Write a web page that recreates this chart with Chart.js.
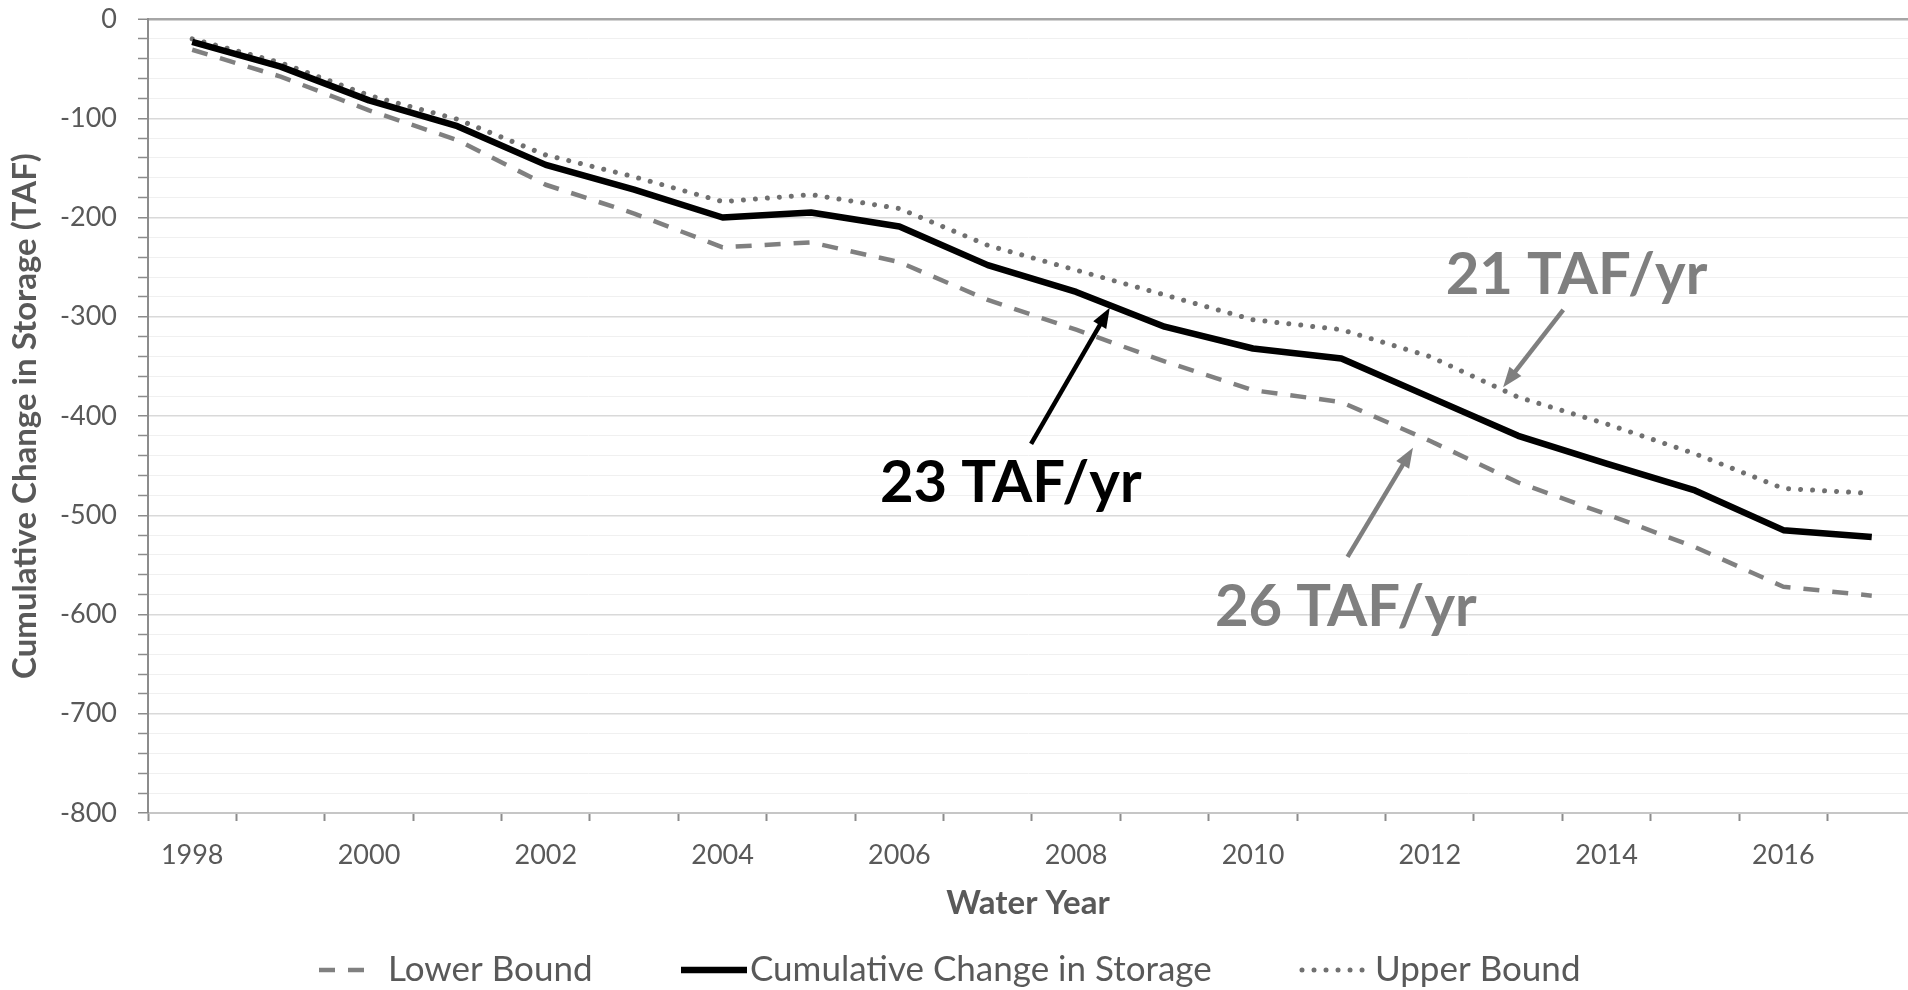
<!DOCTYPE html>
<html><head><meta charset="utf-8">
<script src="https://cdn.jsdelivr.net/npm/chart.js@4.4.1/dist/chart.umd.min.js"></script>
<style>html,body{margin:0;padding:0;background:#fff;overflow:hidden}#wrap{width:1908px;height:990px}</style>
</head><body><div id="wrap"><canvas id="c" width="1908" height="990"></canvas></div>
<script>
const years = [1998,1999,2000,2001,2002,2003,2004,2005,2006,2007,2008,2009,2010,2011,2012,2013,2014,2015,2016,2017];
const lowerBound = [-31,-58,-92,-122,-167,-196,-230,-225,-245,-283,-313,-345,-374,-386,-425,-467,-499,-532,-572,-581];
const cumulative = [-23,-48,-82,-108,-147,-172,-200,-195,-209,-248,-275,-310,-332,-342,-381,-420,-448,-475,-515,-522];
const upperBound = [-20,-44,-77,-101,-137,-159,-184,-177,-191,-228,-253,-278,-303,-313,-340,-381,-408,-438,-473,-478];
const xTickYears = [1998,2000,2002,2004,2006,2008,2010,2012,2014,2016];
const seriesLabels = ['Lower Bound','Cumulative Change in Storage','Upper Bound'];
const annotations = [
  {text:'23 TAF/yr', color:'#000000', at:[2007.26,-468], from:[2007.49,-428], to:[2008.38,-291]},
  {text:'21 TAF/yr', color:'#7f7f7f', at:[2013.66,-258], from:[2013.51,-293], to:[2012.83,-371]},
  {text:'26 TAF/yr', color:'#7f7f7f', at:[2011.05,-593], from:[2011.07,-542], to:[2011.81,-432]}
];

const FONT = 'Lato, "Open Sans", "DejaVu Sans", sans-serif';
const TEXT = '#595959';

function pts(arr){ return years.map((y,i)=>({x:y, y:arr[i]})); }

function arrow(ctx,x1,y1,x2,y2,color,w,hl,hw){
  const a = Math.atan2(y2-y1,x2-x1);
  const bx = x2-hl*Math.cos(a), by = y2-hl*Math.sin(a);
  ctx.save();
  ctx.strokeStyle=color; ctx.lineWidth=w; ctx.lineCap='butt'; ctx.setLineDash([]);
  ctx.beginPath(); ctx.moveTo(x1,y1); ctx.lineTo(bx+Math.cos(a),by+Math.sin(a)); ctx.stroke();
  ctx.fillStyle=color; ctx.beginPath(); ctx.moveTo(x2,y2);
  ctx.lineTo(bx+hw/2*Math.sin(a), by-hw/2*Math.cos(a));
  ctx.lineTo(bx-hw/2*Math.sin(a), by+hw/2*Math.cos(a));
  ctx.closePath(); ctx.fill();
  ctx.restore();
}

const extras = {
  id:'extras',
  afterDraw(chart){
    const ctx = chart.ctx, xs = chart.scales.x, ys = chart.scales.y;
    annotations.forEach(an=>{
      arrow(ctx, xs.getPixelForValue(an.from[0]), ys.getPixelForValue(an.from[1]),
                 xs.getPixelForValue(an.to[0]), ys.getPixelForValue(an.to[1]), an.color, 4.5, 20, 15);
      ctx.save();
      ctx.font = 'bold 58px ' + FONT;
      ctx.fillStyle = an.color; ctx.textAlign='center'; ctx.textBaseline='middle';
      ctx.fillText(an.text, xs.getPixelForValue(an.at[0]), ys.getPixelForValue(an.at[1]));
      ctx.restore();
    });
    const ly = 970;
    const items = [
      {ds:0, x0:319, x1:365, tx:388},
      {ds:1, x0:681, x1:747, tx:750},
      {ds:2, x0:1302, x1:1371, tx:1375}
    ];
    ctx.save();
    items.forEach(it=>{
      const d = chart.data.datasets[it.ds];
      ctx.strokeStyle = d.borderColor;
      ctx.lineWidth = d.borderWidth;
      ctx.setLineDash(d.borderDash || []);
      ctx.lineCap = d.borderCapStyle || 'butt';
      ctx.beginPath(); ctx.moveTo(it.x0, ly); ctx.lineTo(it.x1, ly); ctx.stroke();
      ctx.setLineDash([]);
      ctx.font = '35px ' + FONT;
      ctx.fillStyle = TEXT; ctx.textAlign='left'; ctx.textBaseline='middle';
      ctx.fillText(d.label, it.tx, ly);
    });
    ctx.restore();
  }
};

function build(){
  Chart.defaults.font.family = FONT;
  Chart.defaults.color = TEXT;
  new Chart(document.getElementById('c'), {
    type:'line',
    data:{datasets:[
      {label:seriesLabels[0], data:pts(lowerBound), borderColor:'#808080', borderWidth:4.5, borderDash:[16,13], order:2},
      {label:seriesLabels[1], data:pts(cumulative), borderColor:'#000000', borderWidth:6.5, order:0},
      {label:seriesLabels[2], data:pts(upperBound), borderColor:'#707070', borderWidth:5, borderDash:[0.01,12], borderCapStyle:'round', order:1}
    ]},
    options:{
      responsive:false, animation:false, devicePixelRatio:1,
      layout:{padding:{top:19,right:0,bottom:59,left:0}},
      elements:{point:{radius:0,hoverRadius:0}, line:{tension:0, borderJoinStyle:'round'}},
      plugins:{legend:{display:false}, tooltip:{enabled:false}},
      events:[],
      scales:{
        x:{
          type:'linear', min:1997.5, max:2017.41,
          afterBuildTicks(s){ const t=[]; for(let v=1997.5; v<=2017.41; v+=0.5) t.push({value:v}); s.ticks=t; },
          afterFit(s){ s.height = 118; s.paddingLeft = 0; s.paddingRight = 0; },
          ticks:{autoSkip:false, maxRotation:0, minRotation:0, padding:18, color:TEXT, font:{size:27},
            callback:(v)=> xTickYears.includes(v) ? String(v) : ''},
          grid:{drawOnChartArea:false, drawTicks:true, tickLength:8, tickWidth:2,
            tickColor:(c)=> (c.tick && c.tick.value % 1 !== 0) ? '#8c8c8c' : 'rgba(0,0,0,0)'},
          border:{color:'#c6c6c6', width:2},
          title:{display:true, text:'Water Year', color:TEXT, font:{size:33, weight:'bold'}, padding:{top:0,bottom:8}}
        },
        y:{
          type:'linear', min:-800, max:0,
          afterFit(s){ s.width = 148; s.paddingTop = 0; s.paddingBottom = 0; },
          ticks:{stepSize:20, autoSkip:false, padding:21, color:TEXT, font:{size:27},
            callback:(v)=> (v % 100 === 0) ? String(v) : ''},
          grid:{
            color:(c)=>{ const v=c.tick.value; return v===0 ? '#a6a6a6' : (v%100===0 ? '#d9d9d9' : '#f0f0f0'); },
            lineWidth:(c)=>{ const v=c.tick.value; return v===0 ? 2.5 : (v%100===0 ? 1.5 : 1); },
            tickLength:10, tickWidth:1.5, tickColor:'#8c8c8c'
          },
          border:{color:'#8c8c8c', width:2},
          title:{display:true, text:'Cumulative Change in Storage (TAF)', color:TEXT, font:{size:33, weight:'bold'}, padding:{top:6,bottom:0}}
        }
      }
    },
    plugins:[extras]
  });
}
const loads = ['27px Lato','bold 33px Lato','35px Lato','bold 58px Lato'].map(f=>document.fonts.load(f).catch(()=>{}));
Promise.all(loads).then(build, build);
</script></body></html>
